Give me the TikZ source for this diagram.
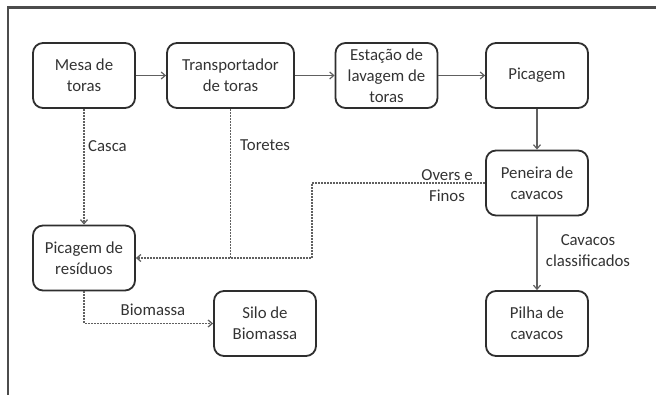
\documentclass[tikz,border=0pt]{standalone}
\usepackage{fontspec}
\setmainfont{Carlito}
\usetikzlibrary{arrows.meta}
\definecolor{boxline}{HTML}{2E2E2E}
\definecolor{txt}{HTML}{333333}
\definecolor{conn}{HTML}{606060}
\tikzset{
  proc/.style={draw=boxline, line width=1.8pt, rounded corners=10pt, minimum width=102pt, minimum height=65pt, align=center, text=txt, font=\fontsize{16.8}{21}\selectfont, inner sep=2pt},
  lbl/.style={text=txt, font=\fontsize{16.8}{21}\selectfont, align=center, inner sep=0pt},
  solidarrow/.style={draw=conn, line width=1.2pt, -{Straight Barb[length=4pt,width=7pt]}},
  dotline/.style={draw=conn, line width=1.3pt, dash pattern=on 2pt off 1pt},
  dotarrow/.style={dotline, -{Straight Barb[length=4pt,width=7pt]}}
}
\begin{document}
\begin{tikzpicture}[x=1pt,y=-1pt]
\useasboundingbox (0,0) rectangle (656,395);
% frame
\draw[draw=black!70, line width=2.3pt] (8,395) -- (8,7.5) -- (656,7.5);
% nodes
\node[proc] (mesa) at (84,75.5) {Mesa de\\toras};
\node[proc, minimum width=127pt] (trans) at (230.5,75.5) {Transportador\\de toras};
\node[proc] (est) at (386.5,75.5) {Estação de\\lavagem de\\toras};
\node[proc] (pic) at (537,75.5) {Picagem};
\node[proc] (pen) at (537,183) {Peneira de\\cavacos};
\node[proc] (pil) at (537,323.5) {Pilha de\\cavacos};
\node[proc] (res) at (84,258) {Picagem de\\resíduos};
\node[proc] (silo) at (265,323.5) {Silo de\\Biomassa};
% solid connectors
\draw[solidarrow] (mesa) -- (trans);
\draw[solidarrow] (trans) -- (est);
\draw[solidarrow] (est) -- (pic);
\draw[solidarrow] (pic) -- (pen);
\draw[solidarrow] (pen) -- (pil);
% dotted connectors
\coordinate (jt) at (trans.south |- res.east);
\coordinate (c1) at (312,183);
\draw[dotarrow] (mesa) -- (res);
\draw[dotline] (trans.south) -- (jt);
\draw[dotarrow] (pen.west) -- (c1) |- (res.east);
\draw[dotarrow] (res.south) |- (silo.west);
% labels
\node[lbl, anchor=west] (casca) at (88,146) {Casca};
\node[lbl, anchor=west] (toretes) at (240,145) {Toretes};
\node[lbl] (overs) at (447,185.5) {Overs e\\Finos};
\node[lbl] (bio) at (153,310) {Biomassa};
\node[lbl] (cav) at (588,251) {Cavacos\\classificados};
\end{tikzpicture}
\end{document}
